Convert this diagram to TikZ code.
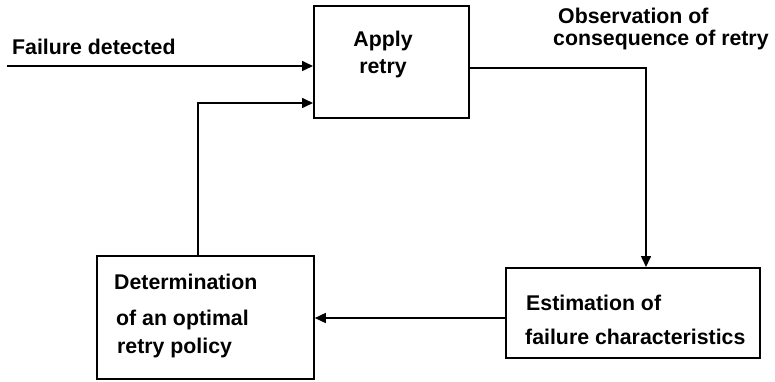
\documentclass[tikz,border=0pt]{standalone}
\usepackage{fontspec}
\setmainfont{Liberation Sans}
\usetikzlibrary{arrows.meta}
\tikzset{
  box/.style={draw, line width=1.8pt, rectangle, inner sep=0pt, anchor=north west},
  lbl/.style={anchor=base west, inner sep=0pt, font=\fontsize{21.3}{25}\selectfont\bfseries},
  conn/.style={line width=1.6pt, -{Triangle[length=11pt,width=10pt]}},
}
\begin{document}
\begin{tikzpicture}[x=1pt,y=-1pt]
\useasboundingbox (0,0) rectangle (775,382);
% boxes
\node[box, minimum width=155pt, minimum height=112pt] (apply) at (313,5) {};
\node[box, minimum width=217pt, minimum height=123pt] (det) at (96,255) {};
\node[box, minimum width=254pt, minimum height=90pt] (est) at (505,267) {};
% texts
\node[lbl] (t1) at (12,55) {Failure detected};
\node[lbl, anchor=base] (t2) at (383,47) {Apply};
\node[lbl, anchor=base] (t3) at (383,74) {retry};
\node[lbl] (t4) at (558,24) {Observation of};
\node[lbl] (t5) at (553,46) {consequence of retry};
\node[lbl] (t6) at (114,289) {Determination};
\node[lbl] (t7) at (116,325) {of an optimal};
\node[lbl] (t8) at (117,353) {retry policy};
\node[lbl] (t9) at (526,310) {Estimation of};
\node[lbl] (t10) at (525,344) {failure characteristics};
% connectors
\coordinate (start) at (7,66);
\coordinate (turn1) at (646,68);
\coordinate (turn2) at (198,103);
\draw[conn] (start) -- (start -| apply.west);
\draw[conn] (apply.east |- turn1) -- (turn1) -- (turn1 |- est.north);
\draw[conn] (est.west |- 0,318) -- (det.east |- 0,318);
\draw[conn] (turn2 |- det.north) -- (turn2) -- (turn2 -| apply.west);
\end{tikzpicture}
\end{document}
